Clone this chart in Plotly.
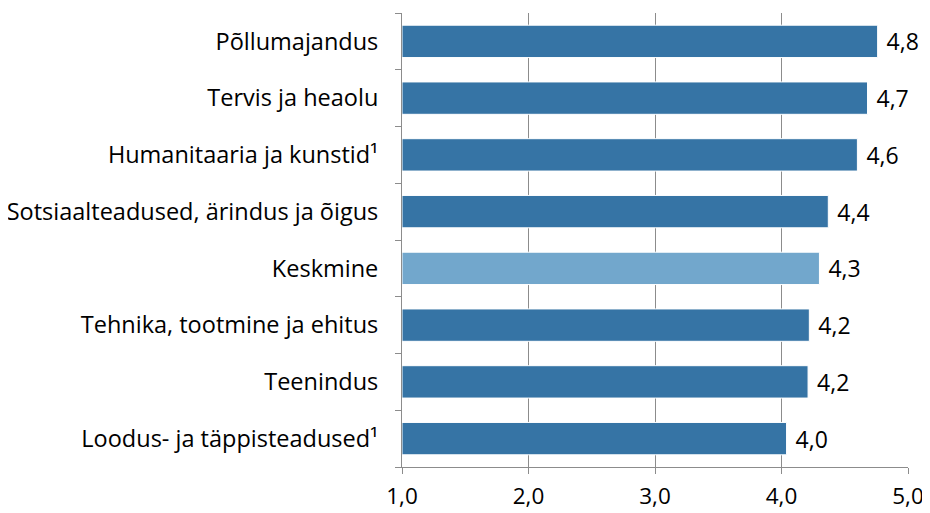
import plotly.graph_objects as go

# categories, top to bottom as in the chart
categories = [
    "Põllumajandus",
    "Tervis ja heaolu",
    "Humanitaaria ja kunstid¹",
    "Sotsiaalteadused, ärindus ja õigus",
    "Keskmine",
    "Tehnika, tootmine ja ehitus",
    "Teenindus",
    "Loodus- ja täppisteadused¹",
]
values = [4.76, 4.68, 4.60, 4.37, 4.30, 4.22, 4.21, 4.04]
highlight = "Keskmine"

x_ticks = [1, 2, 3, 4, 5]

DARK = "#3674a5"
LIGHT = "#72a7cc"
GRID = "#8c8c8c"
FONT = "Open Sans, Liberation Sans, sans-serif"

colors = [LIGHT if c == highlight else DARK for c in categories]

fig = go.Figure(
    go.Bar(
        y=categories,
        x=[v - 1 for v in values],
        base=1,
        orientation="h",
        marker=dict(color=colors, line=dict(color="white", width=1)),
        width=0.57,
        text=["\u00a0" + f"{v:.1f}".replace(".", ",") for v in values],
        textposition="outside",
        textfont=dict(size=23, color="black", family=FONT),
        cliponaxis=False,
        hoverinfo="skip",
    )
)

# the page body adds an 8px offset, so the figure is sized to compensate
fig.update_layout(
    width=922,
    height=505,
    margin=dict(l=394, r=22, t=5, b=46),
    paper_bgcolor="white",
    plot_bgcolor="white",
    font=dict(family=FONT, size=22, color="black"),
    separators=",.",
    showlegend=False,
)

fig.update_xaxes(
    range=[1, 5],
    tickvals=x_ticks,
    tickformat=".1f",
    showgrid=True,
    gridcolor=GRID,
    gridwidth=1,
    showline=True,
    linecolor=GRID,
    linewidth=1,
    ticks="outside",
    ticklen=6,
    tickcolor=GRID,
    zeroline=False,
    automargin=False,
    ticklabelstandoff=3,
    tickfont=dict(size=22.5),
)

fig.update_yaxes(
    categoryorder="array",
    categoryarray=categories[::-1],
    autorange=False,
    range=[-0.5, len(categories) - 0.5],
    showline=True,
    linecolor=GRID,
    linewidth=1,
    ticks="outside",
    tickson="boundaries",
    ticklen=6,
    tickcolor=GRID,
    ticklabelstandoff=18,
    showgrid=False,
    automargin=False,
    tickfont=dict(size=23.5),
)

fig.write_html("out.html")
